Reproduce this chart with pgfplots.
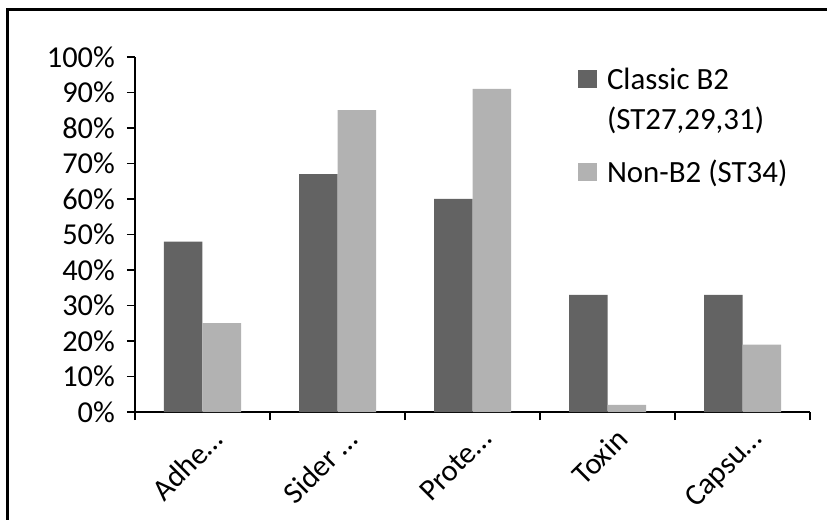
\documentclass[border=0pt]{standalone}
\usepackage{fontspec}
\setmainfont{Carlito}
\usepackage{pgfplots}
\pgfplotsset{compat=1.18}
\definecolor{darkbar}{RGB}{99,99,99}
\definecolor{lightbar}{RGB}{178,178,178}

\begin{document}
\begin{tikzpicture}
\useasboundingbox (-135bp,-108bp) rectangle (692bp,412bp);
% outer chart frame (only left and top edges are visible in the source)
\draw[line width=2.5bp] (-127.5bp,-108bp) -- (-127.5bp,402.5bp) -- (692bp,402.5bp);
\begin{axis}[
    at={(0,0)}, anchor=south west,
    scale only axis,
    width=675bp, height=355bp,
    ybar=0pt, bar width=38.5bp,
    xmin=-0.5, xmax=4.5,
    ymin=0, ymax=100,
    axis x line=bottom, axis y line=left,
    axis line style={-, line width=1.5bp, black},
    xtick={0,1,2,3,4},
    xticklabels={Adhe…, Sider …, Prote…, Toxin, Capsu…},
    minor xtick={-0.5,0.5,1.5,2.5,3.5,4.5},
    ytick={0,10,...,100},
    yticklabels={0\%,10\%,20\%,30\%,40\%,50\%,60\%,70\%,80\%,90\%,100\%},
    tick align=outside,
    major tick length=8bp, minor tick length=8bp,
    tick style={line width=1.5bp, black},
    major x tick style={draw=none},
    tick label style={font=\fontsize{30.5}{36}\selectfont},
    xticklabel style={rotate=45, anchor=north east, inner sep=0bp, xshift=0.5bp, yshift=-9.6bp},
    yticklabel style={inner sep=2bp, xshift=-10bp},
    legend style={at={(0.6563,0.965)}, anchor=north west,
        draw=none, fill=none, inner sep=0pt, outer sep=0pt,
        row sep=20.4bp, column sep=10bp,
        font=\fontsize{31}{37}\selectfont,
        nodes={inner sep=0pt, text height=19.6bp, text depth=0bp}},
    legend cell align=left,
]
\addplot[fill=darkbar, draw=none,
    legend image code/.code={\fill[darkbar] (0bp,-9bp) rectangle (19bp,9bp);}]
    coordinates {(0,48) (1,67) (2,60) (3,33) (4,33)};
\addlegendentry{Classic B2}
\addlegendimage{empty legend}
\addlegendentry[text depth=13bp]{(ST27,29,31)}
\addplot[fill=lightbar, draw=none,
    legend image code/.code={\fill[lightbar] (0bp,-9bp) rectangle (19bp,9bp);}]
    coordinates {(0,25) (1,85) (2,91) (3,2) (4,19)};
\addlegendentry{Non-B2 (ST34)}
\end{axis}
\end{tikzpicture}
\end{document}
